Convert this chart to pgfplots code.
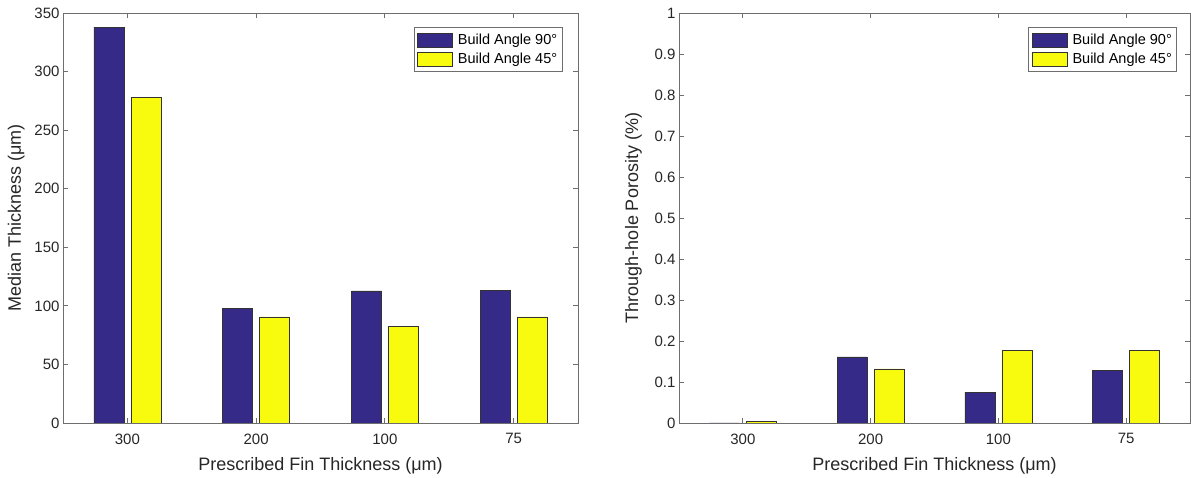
\documentclass[border=0pt]{standalone}
\usepackage{fontspec}
\setmainfont{Liberation Sans}
\usepackage{pgfplots}
\pgfplotsset{compat=1.18}

\definecolor{parulaBlue}{RGB}{53,42,135}
\definecolor{parulaYellow}{RGB}{249,251,14}
\definecolor{axisGray}{RGB}{110,110,110}

\pgfplotsset{
  matlabbar/.style={
    scale only axis,
    ybar=7pt,
    bar width=30pt,
    xmin=0.5, xmax=4.5,
    ymin=0,
    xtick={1,2,3,4},
    xticklabels={300,200,100,75},
    tick align=inside,
    major tick length=5pt,
    axis line style={axisGray, line width=0.8pt},
    every tick/.style={axisGray, line width=0.8pt},
    tick label style={font=\fontsize{15}{18}\selectfont, text=black!85},
    xticklabel style={yshift=-7pt},
    label style={font=\fontsize{18}{21}\selectfont, text=black!85},
    xlabel={Prescribed Fin Thickness (μm)},
    xlabel style={yshift=-6pt},
    /pgf/number format/assume math mode=true,
    legend style={
      anchor=north east,
      font=\fontsize{14.5}{17}\selectfont,
      draw=axisGray, line width=0.8pt,
      inner xsep=3pt, inner ysep=4.5pt,
      row sep=3pt,
      cells={anchor=west},
    },
    legend image code/.code={
      \draw[#1, draw=black!80, line width=0.6pt] (0pt,-7pt) rectangle (35pt,7pt);
      \path (38pt,0pt);
    },
  },
  bar90/.style={fill=parulaBlue, draw=black!80, line width=0.7pt},
  bar45/.style={fill=parulaYellow, draw=black!80, line width=0.7pt},
}

\begin{document}
\begin{tikzpicture}[x=1pt,y=1pt]
\useasboundingbox (0,0) rectangle (1191,478);

% Median fin thickness
\begin{axis}[matlabbar,
  at={(63pt,55pt)}, anchor=south west,
  width=515pt, height=410pt,
  ymax=350, ytick={0,50,...,350},
  ylabel={Median Thickness (μm)},
  ylabel style={yshift=3pt},
  legend style={at={(0.97,0.965)}},
]
\addplot[bar90] coordinates {(1,338) (2,98) (3,112.7) (4,113)};
\addplot[bar45] coordinates {(1,278) (2,90.5) (3,82.8) (4,90.5)};
\legend{Build Angle 90°, Build Angle 45°}
\end{axis}

% Through-hole porosity
\begin{axis}[matlabbar,
  at={(679pt,55pt)}, anchor=south west,
  width=511pt, height=410pt,
  ymax=1, ytick={0,0.1,...,1},
  yticklabel style={/pgf/number format/fixed, /pgf/number format/precision=1},
  ylabel={Through-hole Porosity (\%)},
  ylabel style={yshift=6pt},
  legend style={at={(0.975,0.965)}},
]
\addplot[bar90] coordinates {(1,0) (2,0.161) (3,0.0756) (4,0.129)};
\addplot[bar45] coordinates {(1,0.004) (2,0.132) (3,0.178) (4,0.176)};
\legend{Build Angle 90°, Build Angle 45°}
\end{axis}
\end{tikzpicture}
\end{document}
